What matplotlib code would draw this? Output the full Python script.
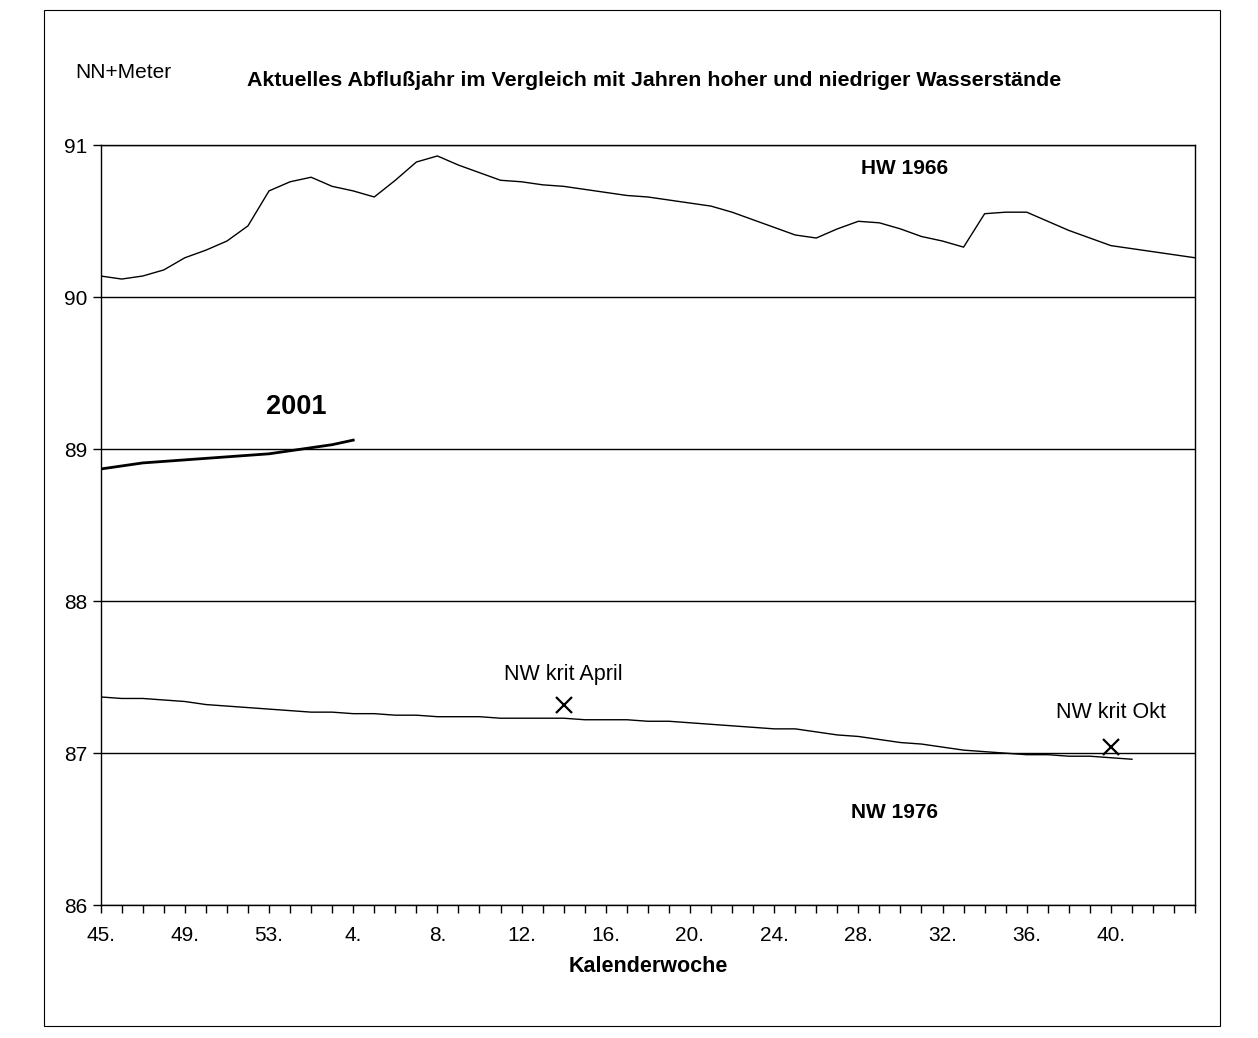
import matplotlib
matplotlib.use('Agg')
import matplotlib.pyplot as plt
from matplotlib.patches import Rectangle

plt.rcParams['font.family'] = ['Liberation Sans', 'DejaVu Sans']

# Kalenderwoche 45 (index 0) .. 44 of the next year (index 52)
tick_pos = [0, 4, 8, 12, 16, 20, 24, 28, 32, 36, 40, 44, 48]
tick_labels = ['45.', '49.', '53.', '4.', '8.', '12.', '16.', '20.', '24.',
               '28.', '32.', '36.', '40.']

hw_1966 = [90.14, 90.12, 90.14, 90.18, 90.26, 90.31, 90.37, 90.47, 90.70, 90.76,
           90.79, 90.73, 90.70, 90.66, 90.77, 90.89, 90.93, 90.87, 90.82, 90.77,
           90.76, 90.74, 90.73, 90.71, 90.69, 90.67, 90.66, 90.64, 90.62, 90.60,
           90.56, 90.51, 90.46, 90.41, 90.39, 90.45, 90.50, 90.49, 90.45, 90.40,
           90.37, 90.33, 90.55, 90.56, 90.56, 90.50, 90.44, 90.39, 90.34, 90.32,
           90.30, 90.28, 90.26]

nw_1976 = [87.37, 87.36, 87.36, 87.35, 87.34, 87.32, 87.31, 87.30, 87.29, 87.28,
           87.27, 87.27, 87.26, 87.26, 87.25, 87.25, 87.24, 87.24, 87.24, 87.23,
           87.23, 87.23, 87.23, 87.22, 87.22, 87.22, 87.21, 87.21, 87.20, 87.19,
           87.18, 87.17, 87.16, 87.16, 87.14, 87.12, 87.11, 87.09, 87.07, 87.06,
           87.04, 87.02, 87.01, 87.00, 86.99, 86.99, 86.98, 86.98, 86.97, 86.96]

y2001 = [88.87, 88.89, 88.91, 88.92, 88.93, 88.94, 88.95, 88.96, 88.97, 88.99,
         89.01, 89.03, 89.06]

krit_x = [22, 48]
krit_y = [87.32, 87.04]
krit_names = ['NW krit April', 'NW krit Okt']

fig = plt.figure(figsize=(12.58, 10.38), dpi=100)
fig.patches.append(Rectangle((0.035, 0.012), 0.935, 0.978, transform=fig.transFigure,
                             fill=False, edgecolor='black', lw=0.8))

ax = fig.add_axes([0.08, 0.128, 0.87, 0.732])
ax.plot(range(len(hw_1966)), hw_1966, color='black', lw=1.0)
ax.plot(range(len(nw_1976)), nw_1976, color='black', lw=1.0)
ax.plot(range(len(y2001)), y2001, color='black', lw=2.0)
ax.plot(krit_x, krit_y, linestyle='none', marker='x', color='black',
        markersize=11, markeredgewidth=1.6)

ax.set_xlim(0, 52)
ax.set_ylim(86, 91)
ax.set_yticks(range(86, 92))
ax.set_xticks(tick_pos)
ax.set_xticklabels(tick_labels)
ax.set_xticks(range(53), minor=True)
ax.tick_params(which='both', direction='out', length=6, width=1, labelsize=15)
ax.tick_params(axis='x', pad=9)
ax.grid(axis='y', color='black', lw=1.0)
for s in ax.spines.values():
    s.set_linewidth(1.0)

ax.set_xlabel('Kalenderwoche', fontweight='bold', fontsize=15.5, labelpad=8)

ax.text(38.2, 90.85, 'HW 1966', fontweight='bold', fontsize=15, ha='center', va='center')
ax.text(9.3, 89.28, '2001', fontweight='bold', fontsize=19.5, ha='center', va='center')
ax.text(37.7, 86.61, 'NW 1976', fontweight='bold', fontsize=15, ha='center', va='center')
ax.text(krit_x[0], krit_y[0] + 0.2, krit_names[0], fontsize=15.5, ha='center', va='center')
ax.text(krit_x[1], krit_y[1] + 0.23, krit_names[1], fontsize=15.5, ha='center', va='center')

fig.text(0.52, 0.922, 'Aktuelles Abflußjahr im Vergleich mit Jahren hoher und niedriger Wasserstände',
         fontweight='bold', fontsize=15.4, ha='center', va='center')
fig.text(0.098, 0.93, 'NN+Meter', fontsize=15, ha='center', va='center')

fig.savefig('out.png', dpi=100)
